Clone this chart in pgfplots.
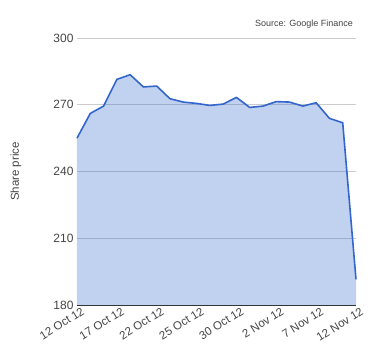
\documentclass[border=0pt]{standalone}
\usepackage{pgfplots}
\pgfplotsset{compat=1.18}
\usepackage{fontspec}
\setmainfont{Liberation Sans}
\definecolor{lineblue}{HTML}{3366CC}
\definecolor{gridgrey}{HTML}{CCCCCC}
\definecolor{txtgrey}{HTML}{444444}
\begin{document}
\begin{tikzpicture}[x=1pt,y=1pt]
\begin{axis}[
  scale only axis,
  width=279pt, height=267pt,
  xmin=0, xmax=21, ymin=180, ymax=300,
  ytick={180,210,240,270,300},
  xtick={0,3,6,9,12,15,18,21},
  xticklabels={12 Oct 12,17 Oct 12,22 Oct 12,25 Oct 12,30 Oct 12,2 Nov 12,7 Nov 12,12 Nov 12},
  x tick label style={rotate=32, anchor=north east, font=\fontsize{11.5}{12}\selectfont, text=txtgrey, inner sep=0.5pt, xshift=3pt, yshift=-3pt},
  y tick label style={font=\fontsize{12}{13}\selectfont, text=txtgrey},
  /pgf/number format/assume math mode=true,
  major tick length=0pt,
  ymajorgrids, grid style={gridgrey, line width=0.8pt},
  axis line style={draw=none},
  ylabel={Share price},
  every axis y label/.style={at={(rel axis cs:0,0.5)}, xshift=-61pt, rotate=90, anchor=center, font=\fontsize{11.5}{12}\selectfont, text=txtgrey},
  clip=false,
]
\addplot[draw=none, fill=lineblue, fill opacity=0.3] coordinates {
(0,255.0) (1,266.1) (2,269.4) (3,281.4) (4,283.5) (5,278.0) (6,278.4) (7,272.7)
(8,271.2) (9,270.6) (10,269.7) (11,270.3) (12,273.3) (13,268.8) (14,269.4)
(15,271.4) (16,271.2) (17,269.4) (18,270.9) (19,263.9) (20,261.9) (21,191.5)
} \closedcycle;
\addplot[color=lineblue, line width=1.6pt, line join=round] coordinates {
(0,255.0) (1,266.1) (2,269.4) (3,281.4) (4,283.5) (5,278.0) (6,278.4) (7,272.7)
(8,271.2) (9,270.6) (10,269.7) (11,270.3) (12,273.3) (13,268.8) (14,269.4)
(15,271.4) (16,271.2) (17,269.4) (18,270.9) (19,263.9) (20,261.9) (21,191.5)
};
\draw[color=black!80, line width=1pt] (axis cs:0,180) -- (axis cs:21,180);
\node[anchor=south east, font=\fontsize{9}{10}\selectfont, text=txtgrey, inner sep=0pt] at ([yshift=9pt]rel axis cs:0.99,1) {Source: Google Finance};
\end{axis}
\pgfresetboundingbox
\path (-77,-55) rectangle (303,305);
\end{tikzpicture}
\end{document}
